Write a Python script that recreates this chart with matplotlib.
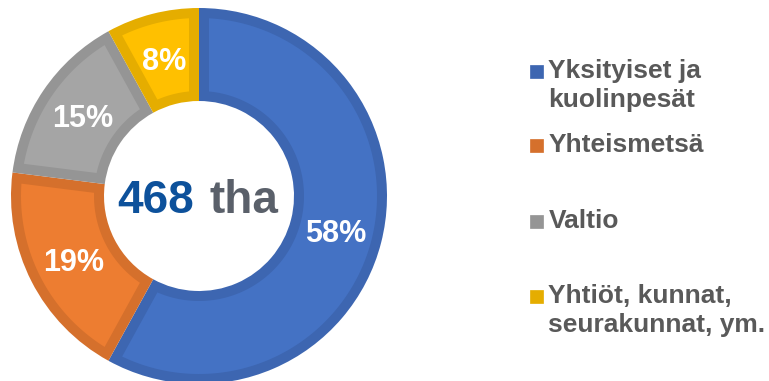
import matplotlib
matplotlib.use("Agg")
import matplotlib.pyplot as plt
from matplotlib.patches import Rectangle, Polygon
import numpy as np

# Data
categories = ["Yksityiset ja\nkuolinpesät", "Yhteismetsä", "Valtio", "Yhtiöt, kunnat,\nseurakunnat, ym."]
shares = [58, 19, 15, 8]
pct_labels = ["58%", "19%", "15%", "8%"]
center_value = "468"
center_unit = "tha"

fills = ["#4472C4", "#ED7D31", "#A5A5A5", "#FFC000"]
borders = ["#3D66B1", "#D5702C", "#959595", "#E5AD00"]

W, H = 769, 381
fig = plt.figure(figsize=(W / 100, H / 100), dpi=100)
fig.patch.set_facecolor("white")

plt.rcParams['font.family'] = ['Liberation Sans', 'DejaVu Sans']

# donut geometry in pixels
cx, cy, R, r = 199, 196, 188, 95
ax = fig.add_axes([(cx - R) / W, (H - cy - R) / H, 2 * R / W, 2 * R / H])
wedges, _ = ax.pie(shares, startangle=90, counterclock=False, radius=1.0,
                   colors=borders, wedgeprops=dict(width=(R - r) / R, linewidth=0))
ax.set_xlim(-1, 1)
ax.set_ylim(-1, 1)
ax.set_aspect("equal")
ax.axis("off")

# inner (lighter) fill of every wedge, inset by the border width
d = 10 / R
for w, fc in zip(wedges, fills):
    t1, t2 = np.deg2rad(w.theta1), np.deg2rad(w.theta2)
    Ro = w.r - d
    Ri = w.r - w.width + d
    ao = np.arcsin(d / Ro)
    ai = np.arcsin(d / Ri)
    outer = np.linspace(t1 + ao, t2 - ao, 200)
    inner = np.linspace(t2 - ai, t1 + ai, 200)
    xs = np.concatenate([Ro * np.cos(outer), Ri * np.cos(inner)]) + w.center[0]
    ys = np.concatenate([Ro * np.sin(outer), Ri * np.sin(inner)]) + w.center[1]
    ax.add_patch(Polygon(np.column_stack([xs, ys]), closed=True,
                         facecolor=fc, linewidth=0))

# percentage labels
start = 90.0
total = sum(shares)
rl = 141 / R
for v, lab in zip(shares, pct_labels):
    mid = start - v / total * 360 / 2
    start -= v / total * 360
    a = np.deg2rad(mid)
    ax.text(rl * np.cos(a), rl * np.sin(a) - 10.5 / R, lab, ha="center", va="baseline",
            color="white", fontsize=22, fontweight="bold")

# center text
ax.text((194 - cx) / R, -(213 - cy) / R, center_value, ha="right", va="baseline",
        color="#0D519B", fontsize=33, fontweight="bold")
ax.text((209 - cx) / R, -(213 - cy) / R, center_unit, ha="left", va="baseline",
        color="#5A606A", fontsize=33, fontweight="bold")

# legend (manual)
legend_baselines = [[77.7, 106.7], [152], [227.5], [302.7, 331.7]]
for cat, fc, ec, bls in zip(categories, fills, borders, legend_baselines):
    y0 = bls[0]
    fig.patches.append(Rectangle((530 / W, (H - y0) / H), 12.5 / W, 13 / H,
                                 transform=fig.transFigure, facecolor=ec,
                                 edgecolor=ec, linewidth=0.5))
    for line, bl in zip(cat.split("\n"), bls):
        fig.text(548.5 / W, (H - bl) / H, line, ha="left", va="baseline",
                 color="#595959", fontsize=19, fontweight="bold")

fig.savefig("out.png", dpi=100, facecolor="white")
